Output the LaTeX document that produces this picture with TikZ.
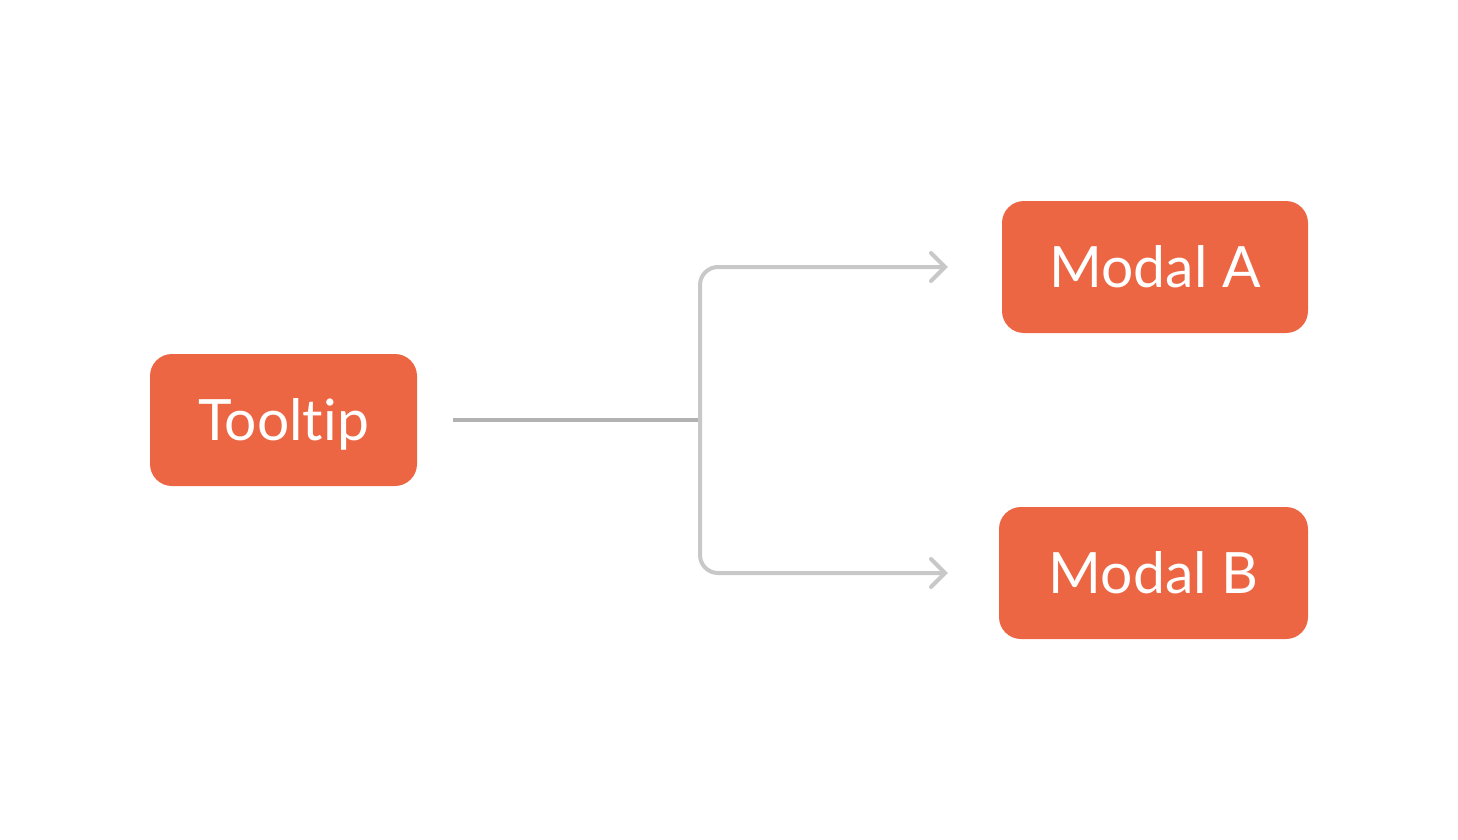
\documentclass[tikz,border=0pt]{standalone}
\usepackage{fontspec}
\setmainfont{Lato}[Ligatures=NoCommon]
\usetikzlibrary{arrows.meta}
\definecolor{boxred}{RGB}{236,102,68}
\definecolor{trunkgray}{RGB}{178,178,178}
\definecolor{branchgray}{RGB}{200,200,200}
\tikzset{
  stepbox/.style={fill=boxred, rounded corners=22pt, minimum height=132pt,
    text=white, font=\fontsize{57}{60}\selectfont, inner sep=0pt,
    text height=41pt, text depth=0pt},
  trunk/.style={draw=trunkgray, line width=4pt},
  branch/.style={draw=branchgray, line width=4pt, rounded corners=18pt,
    -{Straight Barb[length=14pt,width=28pt,line cap=round]}}
}
\begin{document}
\begin{tikzpicture}[x=1pt,y=-1pt]
  \useasboundingbox (0,0) rectangle (1458,840);
  \node[stepbox, minimum width=267pt] (tooltip) at (283.5,420) {Tooltip};
  \node[stepbox, minimum width=306pt] (modalA) at (1155,267) {Modal A};
  \node[stepbox, minimum width=309pt] (modalB) at (1153.5,573) {Modal B};
  \coordinate (fork) at (700,420);
  \draw[trunk, shorten <=36pt] (tooltip) -- (fork);
  \draw[branch, shorten >=54pt] (fork) |- (modalA);
  \draw[branch, shorten >=51pt] (fork) |- (modalB);
\end{tikzpicture}
\end{document}
